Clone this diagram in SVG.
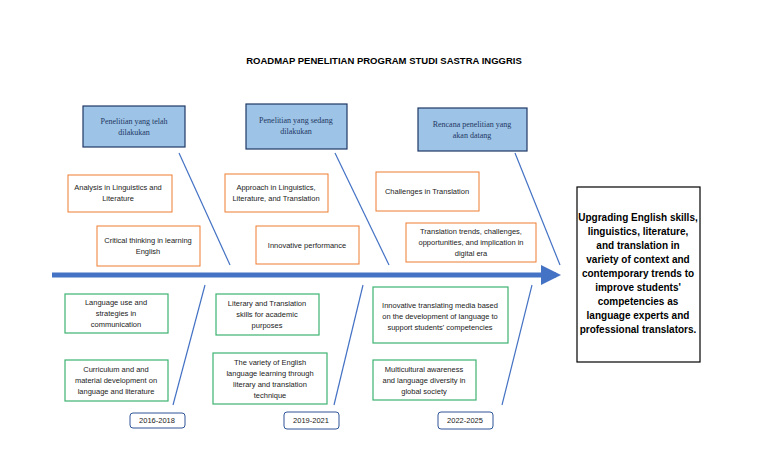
<svg xmlns="http://www.w3.org/2000/svg" width="768" height="466" viewBox="0 0 768 466">
<defs>
<style>
.t{font-family:"Liberation Sans",Arial,sans-serif;font-size:7.5px;fill:#222;text-anchor:middle}
.s{font-family:"Liberation Serif","Times New Roman",serif;font-size:8px;fill:#1f3864;text-anchor:middle}
.b{fill:#9dc3e6;stroke:#1f3864;stroke-width:1.2}
.o{fill:#fff;stroke:#ed7d31;stroke-width:1}
.g{fill:#fff;stroke:#3cb371;stroke-width:1.2}
.y{fill:#fff;stroke:#2f5597;stroke-width:1}
.l{stroke:#4472c4;stroke-width:1.2;fill:none}
.r{font-family:"Liberation Sans",Arial,sans-serif;font-size:10px;font-weight:bold;fill:#000;text-anchor:middle}
</style>
<marker id="ah" markerWidth="4" markerHeight="4" refX="3" refY="2" orient="auto"><path d="M0,0 L4,2 L0,4 z" fill="#4472c4"/></marker>
</defs>
<rect width="768" height="466" fill="#fff"/>
<text x="384" y="64" font-family="Liberation Sans,Arial,sans-serif" font-size="9.5" font-weight="bold" text-anchor="middle">ROADMAP PENELITIAN PROGRAM STUDI SASTRA INGGRIS</text>
<g id="connectors">
<line x1="52" y1="275" x2="556" y2="275" stroke="#4472c4" stroke-width="5" marker-end="url(#ah)"/>
<line class="l" x1="179" y1="153" x2="230" y2="265"/>
<line class="l" x1="335" y1="153" x2="389" y2="265"/>
<line class="l" x1="515" y1="153" x2="560" y2="265"/>
<line class="l" x1="205" y1="285" x2="173" y2="405"/>
<line class="l" x1="363" y1="285" x2="334" y2="405"/>
<line class="l" x1="532" y1="285" x2="502" y2="405"/>
</g>
<g id="h1"><rect class="b" x="83" y="106" width="102" height="41"/><text class="s" x="134" y="124">Penelitian yang telah</text><text class="s" x="134" y="135">dilakukan</text></g>
<g id="h2"><rect class="b" x="246" y="104" width="101" height="45"/><text class="s" x="296" y="123">Penelitian yang sedang</text><text class="s" x="296" y="134">dilakukan</text></g>
<g id="h3"><rect class="b" x="418" y="108" width="109" height="43"/><text class="s" x="472" y="127">Rencana penelitian yang</text><text class="s" x="472" y="138">akan datang</text></g>
<g id="o1"><rect class="o" x="68" y="175" width="104" height="37"/><text class="t" x="118" y="190">Analysis in Linguistics and</text><text class="t" x="118" y="201">Literature</text></g>
<g id="o2"><rect class="o" x="97" y="226" width="103" height="40"/><text class="t" x="148" y="243">Critical thinking in learning</text><text class="t" x="148" y="254">English</text></g>
<g id="o3"><rect class="o" x="225" y="174" width="103" height="38"/><text class="t" x="276" y="190">Approach in Linguistics,</text><text class="t" x="276" y="201">Literature, and Translation</text></g>
<g id="o4"><rect class="o" x="256" y="226" width="103" height="38"/><text class="t" x="307" y="248">Innovative performance</text></g>
<g id="o5"><rect class="o" x="376" y="172" width="103" height="39"/><text class="t" x="427" y="194">Challenges in Translation</text></g>
<g id="o6"><rect class="o" x="406" y="223" width="130" height="39"/><text class="t" x="471" y="234">Translation trends, challenges,</text><text class="t" x="471" y="245">opportunities, and implication in</text><text class="t" x="471" y="256">digital era</text></g>
<g id="g1"><rect class="g" x="65" y="294" width="103" height="39"/><text class="t" x="116" y="305">Language use and</text><text class="t" x="116" y="316">strategies in</text><text class="t" x="116" y="327">communication</text></g>
<g id="g2"><rect class="g" x="65" y="360" width="103" height="41"/><text class="t" x="116" y="372">Curriculum and and</text><text class="t" x="116" y="383">material development on</text><text class="t" x="116" y="394">language and literature</text></g>
<g id="g3"><rect class="g" x="216" y="294" width="103" height="41"/><text class="t" x="267" y="306">Literary and Translation</text><text class="t" x="267" y="317">skills for academic</text><text class="t" x="267" y="328">purposes</text></g>
<g id="g4"><rect class="g" x="213" y="353" width="114" height="51"/><text class="t" x="270" y="365">The variety of English</text><text class="t" x="270" y="376">language learning through</text><text class="t" x="270" y="387">literary and translation</text><text class="t" x="270" y="398">technique</text></g>
<g id="g5"><rect class="g" x="373" y="287" width="135" height="56"/><text class="t" x="440" y="308">Innovative translating media based</text><text class="t" x="440" y="319">on the development of language  to</text><text class="t" x="440" y="330">support students' competencies</text></g>
<g id="g6"><rect class="g" x="373" y="360" width="103" height="40"/><text class="t" x="424" y="372">Multicultural awareness</text><text class="t" x="424" y="383">and language diversity in</text><text class="t" x="424" y="394">global society</text></g>
<g id="y1"><rect class="y" x="130" y="413" width="55" height="15" rx="3"/><text class="t" x="157" y="423" fill="#1f3864">2016-2018</text></g>
<g id="y2"><rect class="y" x="284" y="412" width="55" height="17" rx="3"/><text class="t" x="311" y="423">2019-2021</text></g>
<g id="y3"><rect class="y" x="438" y="412" width="55" height="17" rx="3"/><text class="t" x="465" y="423">2022-2025</text></g>
<g id="goal"><rect x="577" y="187" width="123" height="175" fill="#fff" stroke="#000" stroke-width="1.2"/>
<text class="r" x="638" y="221">Upgrading English skills,</text>
<text class="r" x="638" y="235">linguistics, literature,</text>
<text class="r" x="638" y="249">and translation in</text>
<text class="r" x="638" y="263">variety of context and</text>
<text class="r" x="638" y="277">contemporary trends to</text>
<text class="r" x="638" y="291">improve students'</text>
<text class="r" x="638" y="305">competencies as</text>
<text class="r" x="638" y="319">language experts and</text>
<text class="r" x="638" y="333">professional translators.</text></g>
</svg>
